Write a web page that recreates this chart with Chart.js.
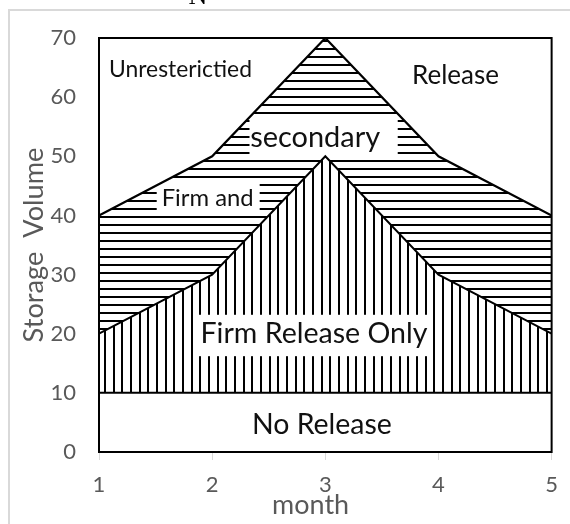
<!DOCTYPE html>
<html><head><meta charset="utf-8">
<script src="https://cdn.jsdelivr.net/npm/chart.js@4"></script>
<style>html,body{margin:0;padding:0;background:#fff}#wrap{width:570px;height:524px;position:relative}</style>
</head><body><div id="wrap"><canvas id="c" width="570" height="524"></canvas></div>
<script>
const months = [1, 2, 3, 4, 5];
const noReleaseLimit = [10, 10, 10, 10, 10];
const firmReleaseLimit = [20, 30, 50, 30, 20];
const secondaryReleaseLimit = [40, 50, 70, 50, 40];
const yTickValues = [0, 10, 20, 30, 40, 50, 60, 70];
const xTickValues = [1, 2, 3, 4, 5];
const zoneLabels = ['Unresterictied', 'Release', 'secondary', 'Firm and', 'Firm Release Only', 'No Release'];
const xTitle = 'month';
const yTitle = 'Storage  Volume';

const FONT = 'Lato, "Open Sans", sans-serif';

const measurer = document.createElement('canvas').getContext('2d');
function fitSize(text, target) {
  measurer.font = '100px ' + FONT;
  return 100 * target / measurer.measureText(text).width;
}

function makePattern(w, h, stripes, vertical) {
  const c = document.createElement('canvas');
  c.width = w; c.height = h;
  const x = c.getContext('2d');
  x.fillStyle = '#fff'; x.fillRect(0, 0, w, h);
  x.fillStyle = '#000';
  stripes.forEach(p => { if (vertical) x.fillRect(p, 0, 2, h); else x.fillRect(0, p, w, 2); });
  return document.getElementById('c').getContext('2d').createPattern(c, 'repeat');
}
const vPattern = makePattern(26, 8, [0, 9, 17], true);
const hPattern = makePattern(8, 8, [0], false);

const toPts = arr => months.map((m, i) => ({x: m, y: arr[i]}));

// label placement in data coords: center (x,y), target text width px, optional white box [x0,x1,y0,y1] in data coords
const labelSpecs = [
  {x: 1.72, y: 64.6, w: 143},
  {x: 4.15, y: 63.7, w: 87},
  {x: 2.91, y: 53.2, w: 130, box: [2.33, 3.64, 56.6, 50.3]},
  {x: 1.96, y: 42.9, w: 92, box: [1.51, 2.42, 45.4, 40.1]},
  {x: 2.90, y: 20.0, w: 227, box: [1.86, 3.95, 23.2, 16.2]},
  {x: 2.97, y: 4.6, w: 140}
];

const tickSize = 22;
const yTitleSize = fitSize(yTitle, 195);
const xTitleSize = fitSize(xTitle, 77);

const decor = {
  id: 'decor',
  beforeDraw(chart) {
    const ctx = chart.ctx;
    ctx.save();
    ctx.fillStyle = '#fff';
    ctx.fillRect(0, 0, chart.width, chart.height);
    ctx.strokeStyle = '#d9d9d9';
    ctx.lineWidth = 2;
    ctx.beginPath();
    ctx.moveTo(9, chart.height); ctx.lineTo(9, 10); ctx.lineTo(chart.width, 10);
    ctx.stroke();
    ctx.fillStyle = '#000';
    ctx.font = '26px "Liberation Serif", serif';
    ctx.textAlign = 'center';
    ctx.textBaseline = 'alphabetic';
    ctx.fillText('N', 198, 4);
    ctx.restore();
  },
  beforeDatasetsDraw(chart) {
    const ctx = chart.ctx;
    const xs = chart.scales.x, ys = chart.scales.y;
    ctx.save();
    ctx.textAlign = 'center';
    ctx.textBaseline = 'middle';
    zoneLabels.forEach((t, i) => {
      const s = labelSpecs[i];
      if (s.box) {
        const x0 = xs.getPixelForValue(s.box[0]), x1 = xs.getPixelForValue(s.box[1]);
        const y0 = ys.getPixelForValue(s.box[2]), y1 = ys.getPixelForValue(s.box[3]);
        ctx.fillStyle = '#fff';
        ctx.fillRect(x0, y0, x1 - x0, y1 - y0);
      }
      const px = xs.getPixelForValue(s.x), py = ys.getPixelForValue(s.y);
      ctx.font = fitSize(t, s.w).toFixed(2) + 'px ' + FONT;
      ctx.fillStyle = '#111';
      ctx.fillText(t, px, py);
    });
    // x axis title
    ctx.fillStyle = '#595959';
    ctx.font = xTitleSize.toFixed(2) + 'px ' + FONT;
    ctx.fillText(xTitle, xs.getPixelForValue(2.87), 505);
    ctx.restore();
  },
  afterDraw(chart) {
    const a = chart.chartArea, ctx = chart.ctx;
    ctx.save();
    ctx.strokeStyle = '#000';
    ctx.lineWidth = 2;
    ctx.strokeRect(a.left, a.top, a.right - a.left, a.bottom - a.top);
    ctx.restore();
  }
};

new Chart(document.getElementById('c'), {
  type: 'line',
  data: {
    datasets: [
      {label: 'No Release', data: toPts(noReleaseLimit), borderColor: '#000', borderWidth: 2, pointRadius: 0, fill: false, tension: 0},
      {label: 'Firm Release', data: toPts(firmReleaseLimit), borderColor: '#000', borderWidth: 2, pointRadius: 0, fill: '-1', backgroundColor: vPattern, tension: 0},
      {label: 'Secondary', data: toPts(secondaryReleaseLimit), borderColor: '#000', borderWidth: 2.2, pointRadius: 0, fill: '-1', backgroundColor: hPattern, tension: 0}
    ]
  },
  options: {
    responsive: false,
    animation: false,
    devicePixelRatio: 1,
    layout: {padding: {left: 0, right: 12, top: 38, bottom: 0}},
    plugins: {legend: {display: false}, tooltip: {enabled: false}, filler: {drawTime: 'beforeDatasetsDraw'}},
    scales: {
      x: {
        type: 'linear', min: 1, max: 5,
        afterBuildTicks: s => { s.ticks = xTickValues.map(v => ({value: v})); },
        afterFit: s => { s.height = 72; },
        grid: {display: true, drawOnChartArea: false, drawTicks: true, tickLength: 8, color: '#d9d9d9', lineWidth: 1},
        border: {display: false},
        ticks: {color: '#595959', font: {family: FONT, size: tickSize}, padding: 12, maxRotation: 0}
      },
      y: {
        min: 0, max: 70,
        afterBuildTicks: s => { s.ticks = yTickValues.map(v => ({value: v})); },
        afterFit: s => { s.width = 99; },
        grid: {display: false, drawTicks: false},
        border: {display: false},
        ticks: {color: '#595959', font: {family: FONT, size: tickSize}, padding: 23},
        title: {display: true, text: yTitle, color: '#595959', font: {family: FONT, size: yTitleSize}, padding: {top: 18, bottom: 0}}
      }
    }
  },
  plugins: [decor]
});
</script>
</body></html>
